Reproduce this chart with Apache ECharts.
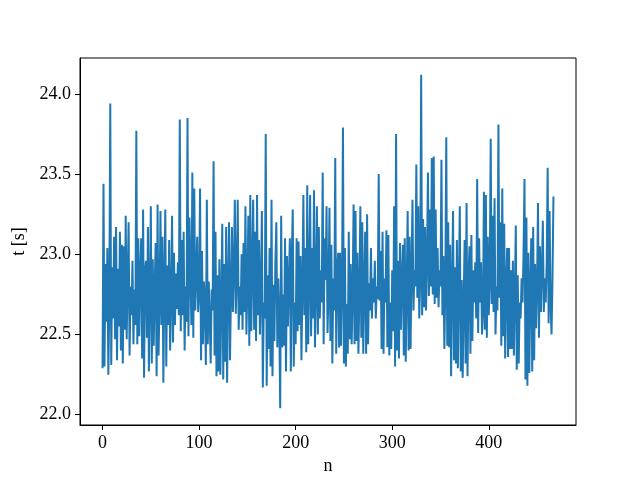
<!DOCTYPE html>
<html>
<head>
<meta charset="utf-8">
<script src="https://cdn.jsdelivr.net/npm/echarts@6/dist/echarts.min.js"></script>
<style>
  html, body { margin: 0; padding: 0; background: #fff; }
  #chart { width: 640px; height: 480px; }
</style>
</head>
<body>
<div id="chart"></div>
<script>
// measured times, one per run n = 0..467
const times = [
  22.29, 23.44, 22.30, 22.94, 22.58, 23.04, 22.25, 22.70, 23.94, 22.31,
  22.92, 22.60, 23.11, 22.47, 23.17, 22.34, 22.91, 22.55, 23.14, 22.40,
  23.06, 22.32, 23.05, 22.53, 23.24, 22.47, 22.85, 23.20, 22.37, 22.80,
  22.62, 22.96, 22.44, 22.78, 22.56, 23.77, 22.44, 23.10, 22.49, 22.88,
  23.10, 22.35, 23.28, 22.23, 22.90, 22.96, 22.48, 23.17, 22.27, 22.75,
  23.30, 22.32, 22.97, 22.43, 22.80, 23.07, 22.24, 23.31, 22.37, 22.70,
  23.27, 22.56, 23.11, 22.20, 22.85, 23.28, 22.30, 22.93, 22.56, 23.09,
  22.40, 22.72, 23.24, 22.45, 23.01, 22.56, 22.88, 22.66, 22.95, 22.62,
  23.84, 22.52, 23.09, 22.62, 23.14, 22.40, 22.80, 22.58, 23.85, 22.49,
  23.23, 22.90, 22.56, 23.51, 22.48, 23.41, 22.65, 22.85, 23.11, 22.64,
  22.76, 23.41, 22.34, 23.02, 22.44, 22.83, 22.70, 22.31, 23.34, 22.44,
  22.83, 22.60, 22.32, 22.78, 22.65, 23.58, 22.37, 23.14, 22.24, 22.87,
  22.27, 22.97, 22.25, 22.70, 23.19, 22.22, 22.94, 22.33, 23.17, 22.20,
  22.80, 23.20, 22.34, 22.75, 23.17, 22.64, 22.90, 23.34, 22.63, 22.85,
  23.34, 22.53, 22.80, 22.62, 23.00, 22.53, 23.07, 22.64, 23.30, 22.50,
  22.80, 23.24, 22.43, 23.37, 22.52, 22.90, 23.34, 22.53, 23.14, 22.46,
  23.37, 22.62, 23.09, 22.50, 22.78, 23.27, 22.17, 22.70, 22.60, 23.75,
  22.18, 22.87, 22.41, 23.04, 22.30, 23.34, 22.24, 22.81, 22.46, 22.95,
  23.20, 22.42, 22.85, 22.60, 22.04, 23.24, 22.42, 22.75, 22.43, 23.10,
  22.27, 22.99, 22.55, 22.85, 23.10, 22.27, 22.99, 23.28, 22.30, 22.70,
  22.44, 23.10, 22.52, 23.08, 22.56, 22.99, 22.34, 22.80, 23.37, 22.62,
  23.04, 22.39, 23.43, 22.44, 22.85, 23.37, 22.49, 23.04, 22.60, 23.40,
  22.42, 22.80, 23.30, 22.50, 23.17, 22.60, 22.90, 22.70, 23.51, 22.44,
  23.10, 22.84, 23.30, 22.51, 22.75, 23.29, 22.46, 23.06, 22.32, 22.85,
  22.65, 23.60, 22.38, 22.90, 23.01, 22.42, 23.01, 22.43, 22.80, 23.79,
  22.32, 23.04, 22.30, 22.69, 22.38, 23.14, 22.47, 22.94, 22.44, 22.75,
  23.31, 22.44, 23.27, 22.46, 23.01, 22.38, 22.75, 23.30, 22.48, 23.20,
  22.38, 22.80, 23.14, 22.38, 23.25, 22.44, 22.82, 22.65, 23.04, 22.60,
  22.85, 22.70, 22.96, 22.60, 22.80, 22.72, 23.50, 22.71, 23.02, 22.41,
  23.14, 22.38, 22.85, 22.70, 23.15, 22.42, 23.12, 22.37, 22.70, 22.41,
  22.90, 22.52, 23.30, 22.30, 23.75, 22.40, 22.96, 22.35, 23.07, 22.53,
  22.85, 23.06, 22.37, 23.10, 22.33, 22.80, 23.27, 22.40, 23.11, 22.41,
  22.90, 23.34, 22.65, 22.90, 22.80, 23.56, 22.73, 23.30, 22.60, 22.85,
  24.12, 22.62, 23.22, 22.67, 23.17, 22.65, 22.95, 23.51, 22.74, 23.28,
  22.80, 23.60, 22.75, 23.61, 22.69, 23.28, 22.73, 23.04, 22.67, 22.90,
  22.80, 23.59, 22.62, 22.99, 22.41, 22.80, 23.73, 22.43, 23.20, 22.42,
  23.06, 22.24, 22.80, 23.27, 22.34, 22.92, 22.32, 23.09, 22.29, 22.80,
  23.30, 22.27, 22.84, 22.23, 22.70, 23.09, 22.32, 23.32, 22.24, 22.85,
  23.05, 22.38, 23.12, 22.46, 22.90, 22.70, 22.95, 22.60, 23.47, 22.51,
  23.10, 22.70, 22.95, 22.50, 22.64, 23.39, 22.53, 23.37, 22.48, 23.11,
  22.62, 22.85, 23.72, 22.69, 23.24, 22.64, 23.35, 22.50, 22.80, 22.65,
  23.81, 22.73, 23.20, 22.43, 23.41, 22.49, 23.19, 22.35, 22.80, 23.04,
  22.36, 23.04, 22.41, 22.90, 22.41, 22.96, 22.37, 22.75, 23.18, 22.28,
  22.87, 22.32, 22.70, 22.60, 22.85, 22.70, 23.00, 23.47, 22.22, 23.23,
  22.18, 23.01, 22.26, 22.80, 23.10, 22.27, 23.17, 22.34, 22.94, 22.54,
  22.80, 23.32, 22.48, 23.05, 22.64, 22.90, 23.21, 22.64, 22.85, 22.70,
  22.95, 23.54, 22.57, 23.27, 22.70, 22.50, 22.85, 23.36
];
const xTicks = [0, 100, 200, 300, 400];
const yTicks = [22.0, 22.5, 23.0, 23.5, 24.0];

const points = times.map((t, n) => [n, t]);
const font = '"Liberation Serif", "DejaVu Serif", serif';

const chart = echarts.init(document.getElementById('chart'), null, { renderer: 'canvas' });
chart.setOption({
  animation: false,
  backgroundColor: '#fff',
  grid: {
    left: 80, right: 64, top: 58, bottom: 53,
    show: true, borderColor: '#000', borderWidth: 1, backgroundColor: 'transparent'
  },
  xAxis: {
    type: 'value',
    min: -23.35, max: 490.35,
    name: 'n', nameLocation: 'middle', nameGap: 32,
    nameTextStyle: { fontFamily: font, fontSize: 18, color: '#000' },
    splitLine: { show: false },
    axisLine: { show: true, onZero: false, lineStyle: { color: '#000', width: 1 } },
    axisTick: { show: true, inside: false, length: 5, customValues: xTicks, lineStyle: { color: '#000' } },
    axisLabel: {
      customValues: xTicks, margin: 9,
      fontFamily: font, fontSize: 18, color: '#000'
    }
  },
  yAxis: {
    type: 'value',
    min: 21.936, max: 24.224,
    name: 't [s]', nameLocation: 'middle', nameGap: 46, nameRotate: 90,
    nameTextStyle: { fontFamily: font, fontSize: 18, color: '#000' },
    splitLine: { show: false },
    axisLine: { show: true, onZero: false, lineStyle: { color: '#000', width: 1 } },
    axisTick: { show: true, inside: false, length: 5, customValues: yTicks, lineStyle: { color: '#000' } },
    axisLabel: {
      customValues: yTicks, margin: 9,
      fontFamily: font, fontSize: 18, color: '#000',
      formatter: v => v.toFixed(1)
    }
  },
  series: [{
    type: 'line',
    data: points,
    showSymbol: false,
    lineStyle: { color: '#1f77b4', width: 2 },
    itemStyle: { color: '#1f77b4' }
  }]
});
</script>
</body>
</html>
